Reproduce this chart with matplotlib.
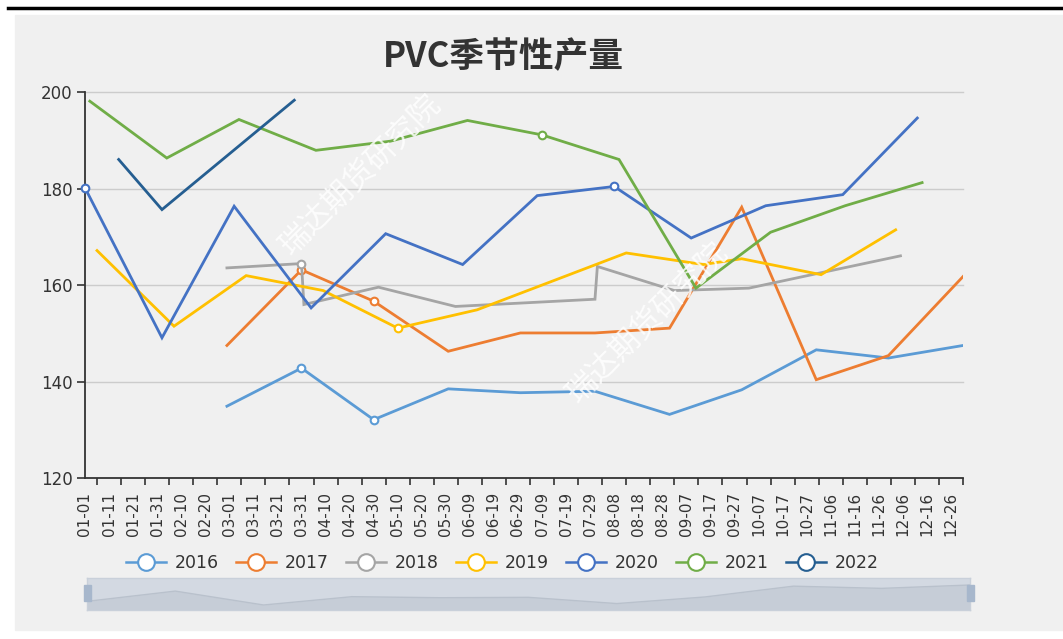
import matplotlib
matplotlib.use("Agg")
import matplotlib.pyplot as plt
import numpy as np
from matplotlib.lines import Line2D
from matplotlib.patches import Rectangle

plt.rcParams['font.family'] = ['DejaVu Sans', 'Noto Sans CJK SC']

# x positions are day index of a leap year (0 = 01-01)
tickLabels = ["01-01", "01-11", "01-21", "01-31", "02-10", "02-20", "03-01", "03-11",
	"03-21", "03-31", "04-10", "04-20", "04-30", "05-10", "05-20", "05-30", "06-09",
	"06-19", "06-29", "07-09", "07-19", "07-29", "08-08", "08-18", "08-28", "09-07",
	"09-17", "09-27", "10-07", "10-17", "10-27", "11-06", "11-16", "11-26", "12-06",
	"12-16", "12-26"]

years = ["2016", "2017", "2018", "2019", "2020", "2021", "2022"]

days2016 = [59, 90, 120, 151, 181, 212, 243, 273, 304, 334, 365]
vals2016 = [134.9, 142.8, 132.1, 138.5, 137.7, 138.0, 133.2, 138.3, 146.6, 144.9, 147.5]

days2017 = [59, 90, 120, 151, 181, 212, 243, 273, 304, 334, 365]
vals2017 = [147.5, 163.2, 156.7, 146.3, 150.1, 150.1, 151.1, 176.2, 140.4, 145.4, 161.8]

days2018 = [59, 90, 91, 122, 154, 212, 213, 245, 276, 306, 339]
vals2018 = [163.6, 164.5, 156.0, 159.6, 155.6, 157.1, 163.9, 158.9, 159.4, 162.6, 166.1]

days2019 = [5, 37, 67, 99, 130, 163, 225, 257, 273, 306, 337]
vals2019 = [167.2, 151.5, 162.0, 158.9, 151.1, 154.9, 166.7, 164.3, 165.5, 162.2, 171.5]

days2020 = [0, 32, 62, 94, 125, 157, 188, 220, 252, 283, 315, 346]
vals2020 = [180.2, 149.1, 176.4, 155.3, 170.7, 164.3, 178.6, 180.5, 169.8, 176.5, 178.8, 194.7]

days2021 = [2, 34, 64, 96, 127, 159, 190, 222, 254, 285, 316, 348]
vals2021 = [198.2, 186.4, 194.4, 188.0, 189.9, 194.2, 191.2, 186.1, 159.4, 171.0, 176.5, 181.3]

days2022 = [14, 32, 87]
vals2022 = [186.1, 175.7, 198.4]

allDays = [days2016, days2017, days2018, days2019, days2020, days2021, days2022]
allVals = [vals2016, vals2017, vals2018, vals2019, vals2020, vals2021, vals2022]
colors = ["#5B9BD5", "#ED7D31", "#A5A5A5", "#FFC000", "#4472C4", "#70AD47", "#255E91"]

W, H = 1063, 639
fig = plt.figure(figsize=(W / 100, H / 100), dpi=100)
fig.patch.set_facecolor("white")

# grey panel and black rule on top
fig.add_artist(Rectangle((15 / W, 1 - 630 / H), 1 - 15 / W, 615 / H,
	transform=fig.transFigure, color="#F0F0F0", zorder=0))
fig.add_artist(Line2D([8 / W, 1], [1 - 8 / H, 1 - 8 / H], transform=fig.transFigure,
	color="black", lw=2.5, zorder=1))

ax = fig.add_axes([85 / W, 1 - 478 / H, 878 / W, 385.5 / H])
ax.set_facecolor("none")
ax.set_xlim(0, 365)
ax.set_ylim(120, 200)

for y in [140, 160, 180, 200]:
	ax.axhline(y, color="#CCCCCC", lw=1, zorder=1, clip_on=False)

for i in range(len(years)):
	d = np.array(allDays[i])
	v = np.array(allVals[i])
	ax.plot(d, v, color=colors[i], lw=2.0, zorder=3 + i, solid_joinstyle="miter")
	# echarts shows symbols only on label ticks
	m = d % 10 == 0
	if m.any():
		ax.plot(d[m], v[m], ls="none", marker="o", markersize=5.5,
			markerfacecolor="white", markeredgecolor=colors[i],
			markeredgewidth=1.5, zorder=3 + i, clip_on=False)

ax.set_xticks(np.arange(0, 361, 10))
ax.set_xticklabels(tickLabels, rotation=90, fontsize=11, color="#333333")
ax.set_xticks(np.arange(5, 366, 10), minor=True)
ax.tick_params(axis="x", which="major", length=0, pad=10)
ax.tick_params(axis="x", which="minor", length=5, width=1.2, color="#333333", direction="out")

ax.set_yticks([120, 140, 160, 180, 200])
ax.tick_params(axis="y", length=6, width=1.2, color="#333333", pad=3,
	labelsize=12, labelcolor="#333333")

for s in ["top", "right"]:
	ax.spines[s].set_visible(False)
for s in ["left", "bottom"]:
	ax.spines[s].set_color("#333333")
	ax.spines[s].set_linewidth(1.3)

# title
fig.text(503 / W, 1 - 57 / H, "PVC季节性产量", ha="center", va="center",
	fontsize=25, fontweight="bold", color="#333333",
	family=["Noto Sans CJK SC", "DejaVu Sans"])

# watermark
for cx, cy in [(360, 175), (647, 323)]:
	fig.text(cx / W, 1 - cy / H, "瑞达期货研究院", ha="center", va="center",
		rotation=45, fontsize=22, color="white", alpha=0.85, zorder=20,
		family=["Noto Sans CJK SC", "DejaVu Sans"])

# legend
handles = []
for c in colors:
	handles.append(Line2D([], [], color=c, lw=1.8, marker="o", markersize=12,
		markerfacecolor="white", markeredgecolor=c, markeredgewidth=1.5))
leg = fig.legend(handles, years, loc="center", bbox_to_anchor=(502 / W, 1 - 563 / H),
	ncol=7, frameon=False, fontsize=12.5, handlelength=2.3, handletextpad=0.5,
	columnspacing=1.0)
for t in leg.get_texts():
	t.set_color("#333333")

# data zoom slider with shadow of first series
sl = fig.add_axes([87 / W, 1 - 610 / H, 883 / W, 32 / H])
sl.set_facecolor("#D3D9E2")
sx = np.linspace(0, 1, len(vals2016))
lo = min(vals2016)
hi = max(vals2016)
sl.set_xlim(0, 1)
sl.set_ylim(lo - 0.25 * (hi - lo), hi + 0.35 * (hi - lo))
sl.fill_between(sx, vals2016, lo - 0.25 * (hi - lo), color="#C6CDD7", lw=0)
sl.plot(sx, vals2016, color="#B9C1CC", lw=1)
sl.set_xticks([])
sl.set_yticks([])
for s in sl.spines.values():
	s.set_color("#C9D0DA")
	s.set_linewidth(1)
for hx in [87, 970]:
	fig.add_artist(Rectangle(((hx - 3.5) / W, 1 - 601 / H), 7 / W, 16 / H,
		transform=fig.transFigure, color="#A7B7CC", zorder=5))

fig.savefig("out.png", dpi=100)
